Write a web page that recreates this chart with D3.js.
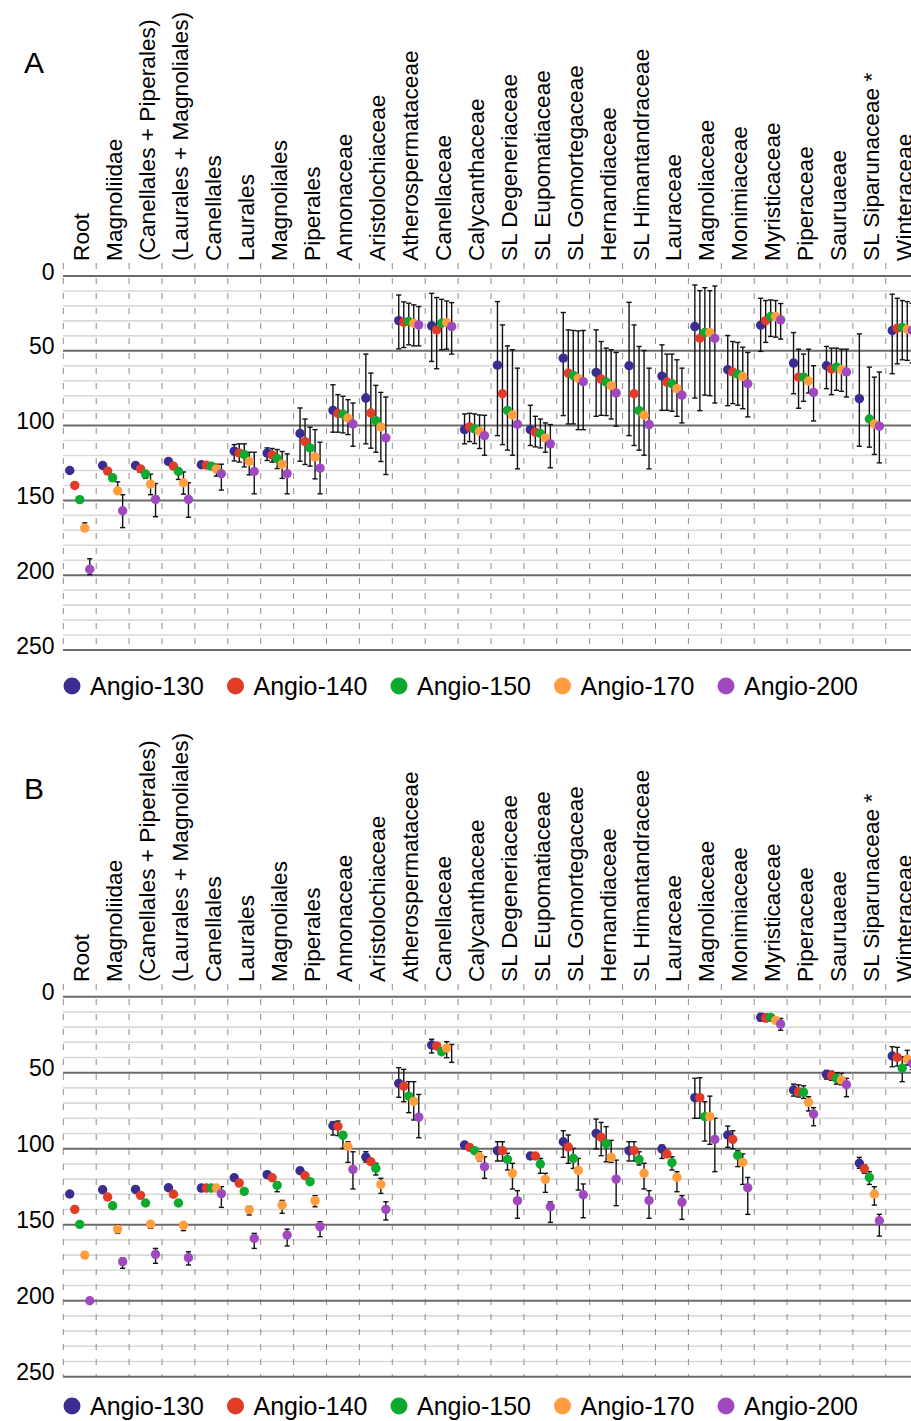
<!DOCTYPE html>
<html>
<head>
<meta charset="utf-8">
<script src="https://cdn.jsdelivr.net/npm/d3@7"></script>
<style>
  html, body { margin: 0; padding: 0; background: #fff; }
  svg { display: block; }
  text { font-family: "Liberation Sans", Arial, Helvetica, sans-serif; fill: #000; }
</style>
</head>
<body>
<svg id="chart" width="911" height="1421"></svg>
<script>
// ---------------- DATA ----------------
const categories = ["Root", "Magnoliidae", "(Canellales + Piperales)", "(Laurales + Magnoliales)",
  "Canellales", "Laurales", "Magnoliales", "Piperales", "Annonaceae", "Aristolochiaceae",
  "Atherospermataceae", "Canellaceae", "Calycanthaceae", "SL Degeneriaceae", "SL Eupomatiaceae",
  "SL Gomortegaceae", "Hernandiaceae", "SL Himantandraceae", "Lauraceae", "Magnoliaceae",
  "Monimiaceae", "Myristicaceae", "Piperaceae", "Sauruaeae", "SL Siparunaceae", "Winteraceae"];
const starred = ["SL Siparunaceae"];
const seriesNames = ["Angio-130", "Angio-140", "Angio-150", "Angio-170", "Angio-200"];
const seriesColors = ["#3a2c90", "#e23b26", "#0caa2e", "#ff9d3f", "#9f48c0"];
const yTicks = [0, 50, 100, 150, 200, 250];

// Panel A: mean ages and error-bar limits (lo = younger end, hi = older end)
const A_130    = [130, 126.7, 126.7, 124, 126.2, 117.1, 118.4, 105.3, 89.8, 81.6, 29.8, 33.3, 102.7, 59.6, 102.7, 54.9, 64.4, 60, 66.9, 33.8, 62.7, 32.9, 58.2, 60, 82, 36.4];
const A_130_lo = [null, null, null, null, null, 112.7, 114.9, 88.2, 72.7, 52.2, 12.7, 11.6, 92.2, 17.1, 86.4, 24.4, 36, 17.6, 46, 6, 39.8, 14.9, 37.8, 47.1, 38.7, 12.2];
const A_130_hi = [null, null, null, null, null, 123.6, 123.3, 123.8, 104.4, 112.2, 48.7, 57.1, 112.2, 106.7, 113.3, 93.3, 93.8, 106.7, 89.8, 81.6, 86.7, 50.4, 78.7, 75.3, 113.8, 65.3];

const A_140    = [140, 130.4, 128.9, 127.1, 126.4, 118.4, 119.6, 110.7, 91.8, 91.6, 30.9, 36, 100.9, 78.7, 104.4, 64.9, 68.9, 78.7, 70.9, 41.6, 64.2, 29.8, 67.6, 62.2, null, 34.9];
const A_140_lo = [null, null, null, null, null, 112.2, 115.3, 95.6, 79.3, 64.9, 17.3, 14.4, 91.8, 32.7, 93.8, 36, 43.8, 32.7, 52.2, 9.8, 43.8, 16.4, 48.9, 48.2, null, 14.9];
const A_140_hi = [null, null, null, null, null, 124.4, 124.4, 126, 104.4, 115.1, 47.8, 62, 110.7, 112.7, 114.2, 98.9, 93.1, 113.3, 89.8, 90, 85.3, 44.4, 88.4, 79.3, null, 58.7];

const A_150    = [149.5, 134.9, 132.4, 130.7, 127.1, 119.3, 122, 114.9, 92.4, 96.7, 30.4, 31.6, 102.2, 89.8, 105.3, 66.4, 70.9, 90, 72, 37.8, 65.6, 27.1, 67.6, 60.9, 95.6, 34.4];
const A_150_lo = [null, null, 130.2, 128.4, null, 112.2, 116, 101.1, 80.4, 73.1, 18.2, 15.6, 92.2, 46.7, 95.6, 36.4, 48.2, 47.1, 52.2, 7.8, 44.4, 16, 52.2, 48.2, 60.9, 16.4];
const A_150_hi = [null, null, 135.3, 136, null, 127.6, 128.7, 127.1, 104.9, 117.8, 46, 49.3, 112, 116.4, 114.9, 98.9, 93.3, 116.4, 90.4, 79.6, 86.4, 40.4, 83.8, 76.4, 114.4, 56];

const A_170    = [168.5, 143.6, 139.1, 138.2, 128.9, 124, 125.8, 120.9, 94.9, 100.9, 31.6, 31.1, 103.8, 92.9, 108.2, 68.4, 73.3, 93.1, 75.3, 37.8, 67.1, 27.1, 70.2, 62.7, 98.9, 35.6];
const A_170_lo = [165, 137.6, 132.4, 131, 125.8, 117.8, 117.3, 102.7, 82.7, 77.8, 19.3, 16.7, 92.9, 49.3, 98.2, 36.7, 49.3, 49.8, 56, 9.8, 47.6, 16.4, 48.9, 48.9, 67.6, 17.1];
const A_170_hi = [170, 144.8, 146.2, 145.8, 133.8, 132.9, 135.3, 135.6, 106, 124, 46.7, 48.9, 115.3, 119.8, 117.8, 102.7, 95.6, 119.8, 93.8, 80, 88.7, 40.9, 78.2, 77.1, 119.3, 56.4];

const A_200    = [196, 156.9, 149.3, 149.3, 132.2, 130.7, 132.2, 128.4, 98.9, 108.2, 32.7, 33.8, 106.7, 99.1, 112.2, 70.7, 78.2, 99.3, 79.6, 41.8, 72, 29.3, 77.8, 64.2, 100.4, 36.4];
const A_200_lo = [189, 146.2, 138.7, 138.2, 125.8, 117.8, 118.9, 111.1, 84.9, 80.9, 20.4, 17.8, 93.1, 61.6, 99.3, 36.4, 51.1, 61.6, 61.6, 6.7, 51.1, 18.4, 60, 48.9, 64.2, 18.2];
const A_200_hi = [199.6, 168.2, 160.9, 161.3, 143.1, 145.6, 145.6, 145.6, 113.8, 132.7, 46.7, 52.2, 119.8, 128.9, 128.2, 102.7, 100.4, 128.9, 98.2, 84.9, 94.2, 42.2, 96.9, 80.9, 124.9, 58.2];

// Panel B
const B_130    = [129.8, 127, 126.8, 125.7, 125.9, 119.1, 117.1, 114.5, 84.9, 105.5, 57, 31.8, 97.6, 101.3, 104.8, 95.4, 89.9, 101.3, 100.2, 66.4, 91, 13.6, 61.4, 51.1, 109.6, 39];
const B_130_lo = [null, null, null, null, null, null, null, null, 82.2, 102, 46.7, 28, 95.4, 95.4, null, 88.2, 80.5, 95.4, 97.6, 53.7, 85.1, 11, 57.5, 48.5, 105.7, 32.9];
const B_130_hi = [null, null, null, null, null, null, null, null, 91, 108.8, 66.2, 37, 99.8, 108.1, null, 105.7, 100.2, 108.1, 106.4, 80, 99.1, 16, 65.4, 54.2, 112.9, 46.1];

const B_140    = [139.9, 131.8, 130.7, 130, 125.9, 122.6, 119.1, 117.8, 85.3, 108.6, 58.8, 32.4, 99.1, 101.3, 104.8, 98.9, 92.5, 101.3, 103.5, 66.4, 93.9, 14, 62.5, 52, 113.2, 39.9];
const B_140_lo = [null, null, null, null, null, null, null, null, 81.8, null, 47.8, null, null, 95.4, null, 91, 82.7, 95.4, null, 53.3, 88.2, 11.4, 58, 49, 110.7, 33.3];
const B_140_hi = [null, null, null, null, null, null, null, null, 91.4, null, 69.1, null, null, 108.1, null, 109.6, 104.6, 108.1, null, 80, 100, 16.4, 66, 55, 116.2, 45.6];

const B_150    = [149.8, 137.5, 135.7, 135.7, 125.9, 128.1, 124.1, 121.7, 91.2, 112.9, 65.4, 36.2, 101.3, 107, 110.1, 106.4, 96.7, 107, 109.2, 78.9, 104.4, 13.6, 62.9, 53.7, 118.9, 47.1];
const B_150_lo = [null, null, null, null, null, null, 121.7, null, 88.8, 109.6, 55.9, null, null, 103, 106.4, 99.8, 85.5, 102, 105.3, 69.1, 101.3, 11.8, 58.6, 50, 115.1, 39.5];
const B_150_hi = [null, null, null, null, null, null, 128.3, null, 99.8, 117.3, 76.3, null, null, 114, 116.2, 113, 108.6, 110.7, 114, 95, 111.8, 15.8, 66.9, 57.5, 123.5, 55.9];

const B_170    = [170, 152.9, 149.6, 150.4, 125.9, 140.1, 137.1, 134.2, 98.5, 123.5, 68.9, 33.8, 105.3, 116.2, 120.2, 114.3, 105.7, 116.2, 118.9, 78.9, 109, 15.6, 69.5, 54.8, 129.8, 41.2];
const B_170_lo = [null, 150.2, 148, 149.3, null, 137.9, 134, 130.9, 95.4, 119.5, 55.9, 29.6, 102, 109.6, 116.2, 106.4, 94.5, 109.6, 115.1, 65.4, 103.4, null, 65.8, 50.4, 125, 35.3];
const B_170_hi = [null, 155.7, 152.4, 153.9, null, 143.6, 142.5, 138.2, 109, 129.4, 81.1, 40.1, 108, 126.5, 128.7, 127.2, 109, 126.5, 128.3, 97.1, 123.5, null, 75.2, 58, 137.1, 45];

const B_200    = [200, 174.3, 169.5, 171.7, 129.6, 159, 156.8, 151.3, 113.6, 139.9, 79.2, null, 111.8, 134.2, 138.2, 130.3, 120, 134, 135.1, 93.9, 125.7, 18, 77.2, 57.9, 147.4, 43.9];
const B_200_lo = [null, 172, 165.6, 167.8, 125, 155.7, 152.9, 148, 102, 134.9, 64.3, 31.4, 105.3, 127.6, 135, 123.2, 107.5, 127.6, 130.9, 80, 118.9, 14.3, 73, 53.7, 143.2, 40];
const B_200_hi = [null, 178.7, 175.4, 176.5, 138.6, 165.6, 164, 157.9, 126.5, 146.9, 92.8, 43.2, 119.5, 145.8, 148.5, 145.4, 137.5, 145.8, 146.5, 115.1, 143.2, 22.1, 84.9, 65.8, 157.5, 48];

// ---------------- DRAWING ----------------
const svg = d3.select("#chart");

const x = d3.scaleBand().domain(categories).range([63.3, 63.3 + 26 * 32.9]).padding(0);
const xs = d3.scalePoint().domain(seriesNames).range([-10, 10]);
const color = d3.scaleOrdinal().domain(seriesNames).range(seriesColors);

function buildSeries(vals, los, his) {
  return seriesNames.map((name, s) => ({
    name,
    points: categories.map((c, i) => ({ cat: c, v: vals[s][i], lo: los[s][i], hi: his[s][i] }))
  }));
}

const panels = [
  {
    letter: "A", letterY: 72.7, labelBottom: 261, yRange: [276, 650], legendY: 686,
    series: buildSeries([A_130, A_140, A_150, A_170, A_200],
                        [A_130_lo, A_140_lo, A_150_lo, A_170_lo, A_200_lo],
                        [A_130_hi, A_140_hi, A_150_hi, A_170_hi, A_200_hi])
  },
  {
    letter: "B", letterY: 799, labelBottom: 982, yRange: [996.7, 1376.7], legendY: 1406,
    series: buildSeries([B_130, B_140, B_150, B_170, B_200],
                        [B_130_lo, B_140_lo, B_150_lo, B_170_lo, B_200_lo],
                        [B_130_hi, B_140_hi, B_150_hi, B_170_hi, B_200_hi])
  }
];

panels.forEach(p => {
  const g = svg.append("g");
  const y = d3.scaleLinear().domain([0, 250]).range(p.yRange);

  // minor grid
  const minor = d3.range(0, 251, 10).filter(v => v % 50 !== 0);
  g.append("g").selectAll("line").data(minor).join("line")
    .attr("x1", 63).attr("x2", 911)
    .attr("y1", d => y(d)).attr("y2", d => y(d))
    .attr("stroke", "#d9d9d9").attr("stroke-width", 1.6);

  // vertical dashed category separators
  const seps = categories.map(c => x(c));
  g.append("g").selectAll("line").data(seps).join("line")
    .attr("x1", d => d).attr("x2", d => d)
    .attr("y1", p.labelBottom + 2).attr("y2", y(250))
    .attr("stroke", "#8c8c8c").attr("stroke-width", 1)
    .attr("stroke-dasharray", "6,9");

  // major grid
  g.append("g").selectAll("line").data(yTicks).join("line")
    .attr("x1", 63).attr("x2", 911)
    .attr("y1", d => y(d)).attr("y2", d => y(d))
    .attr("stroke", "#6a6a6a").attr("stroke-width", 2);

  // y tick labels
  g.append("g").selectAll("text").data(yTicks).join("text")
    .attr("x", 54.5).attr("y", d => y(d) + 3.5)
    .attr("text-anchor", "end")
    .style("font-size", "23px")
    .text(d => d);

  // category labels (rotated)
  const lab = g.append("g").selectAll("text").data(categories).join("text")
    .attr("transform", d => `translate(${x(d) + x.bandwidth() / 2 + 9.5},${p.labelBottom}) rotate(-90)`)
    .attr("text-anchor", "start")
    .style("font-size", "22.7px")
    .text(d => d);
  lab.filter(d => starred.includes(d)).append("tspan").text(" *");

  // panel letter
  g.append("text").attr("x", 24).attr("y", p.letterY)
    .style("font-size", "30px").text(p.letter);

  // error bars
  p.series.forEach(s => {
    const eb = g.append("g").attr("stroke", "#111").attr("stroke-width", 1.4);
    const pts = s.points.filter(d => d.lo != null && d.hi != null);
    const cx = d => x(d.cat) + x.bandwidth() / 2 + xs(s.name);
    eb.selectAll("line.v").data(pts).join("line").attr("class", "v")
      .attr("x1", cx).attr("x2", cx)
      .attr("y1", d => y(d.lo)).attr("y2", d => y(d.hi));
    eb.selectAll("line.t").data(pts).join("line").attr("class", "t")
      .attr("x1", d => cx(d) - 2.6).attr("x2", d => cx(d) + 2.6)
      .attr("y1", d => y(d.lo)).attr("y2", d => y(d.lo));
    eb.selectAll("line.b").data(pts).join("line").attr("class", "b")
      .attr("x1", d => cx(d) - 2.6).attr("x2", d => cx(d) + 2.6)
      .attr("y1", d => y(d.hi)).attr("y2", d => y(d.hi));
  });

  // dots
  p.series.forEach(s => {
    const cx = d => x(d.cat) + x.bandwidth() / 2 + xs(s.name);
    g.append("g").selectAll("circle").data(s.points.filter(d => d.v != null)).join("circle")
      .attr("cx", cx).attr("cy", d => y(d.v)).attr("r", 4.7)
      .attr("fill", color(s.name));
  });

  // legend
  const leg = g.append("g").selectAll("g").data(seriesNames).join("g")
    .attr("transform", (d, i) => `translate(${72 + i * 163.5},${p.legendY})`);
  leg.append("circle").attr("r", 8.5).attr("fill", d => color(d));
  leg.append("text").attr("x", 18).attr("y", 9).style("font-size", "25px").text(d => d);
});
</script>
</body>
</html>
